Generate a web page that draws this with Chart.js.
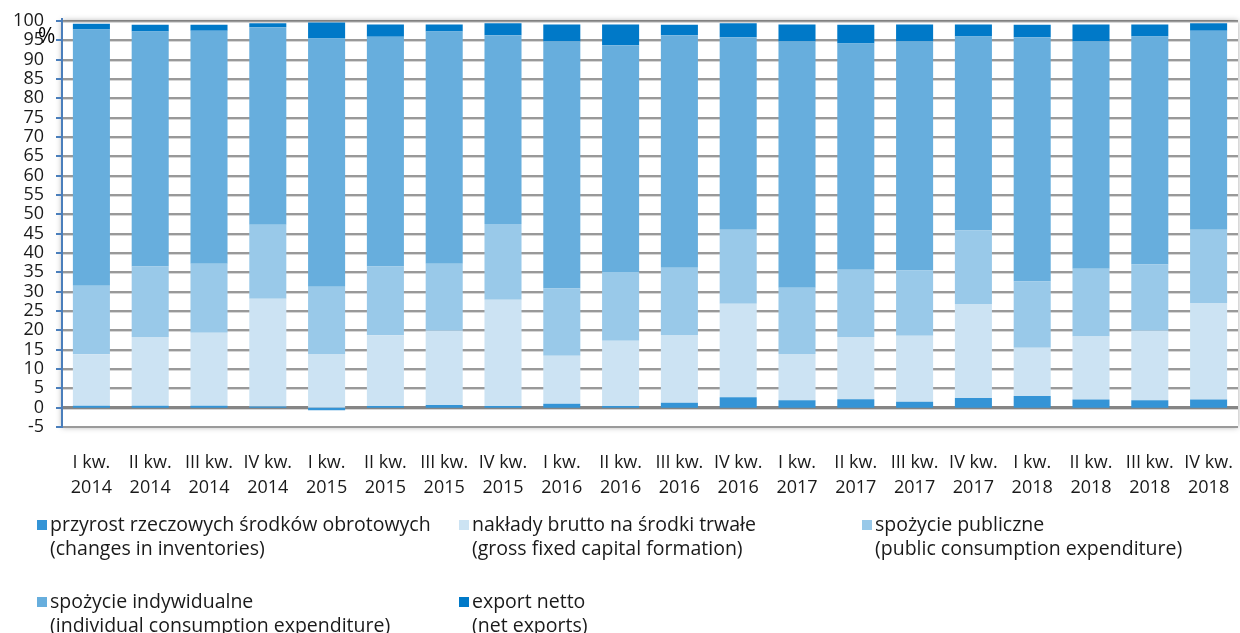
<!DOCTYPE html>
<html><head><meta charset="utf-8">
<script src="https://cdn.jsdelivr.net/npm/chart.js@4/dist/chart.umd.min.js"></script>
<style>html,body{margin:0;padding:0;background:#fff;}#wrap{position:relative;width:1240px;height:633px;}</style>
</head><body><div id="wrap"><canvas id="c" width="1240" height="633"></canvas></div>
<script>
const categories = [
  ['I kw.','2014'],['II kw.','2014'],['III kw.','2014'],['IV kw.','2014'],
  ['I kw.','2015'],['II kw.','2015'],['III kw.','2015'],['IV kw.','2015'],
  ['I kw.','2016'],['II kw.','2016'],['III kw.','2016'],['IV kw.','2016'],
  ['I kw.','2017'],['II kw.','2017'],['III kw.','2017'],['IV kw.','2017'],
  ['I kw.','2018'],['II kw.','2018'],['III kw.','2018'],['IV kw.','2018']
];
const inventories = [0.5,0.5,0.5,0.3,-0.7,0.4,0.7,0.4,1.0,0.4,1.3,2.7,1.9,2.2,1.5,2.5,3.0,2.1,1.9,2.1];
const grossFixedCapital = [13.3,17.8,18.9,27.9,13.9,18.3,19.2,27.5,12.4,16.9,17.5,24.2,12.0,16.1,17.1,24.3,12.5,16.3,18.0,25.0];
const publicConsumption = [17.7,18.2,17.8,19.1,17.4,17.8,17.3,19.6,17.4,17.8,17.4,19.1,17.1,17.4,16.9,19.0,17.1,17.5,17.1,18.9];
const individualConsumption = [66.3,60.8,60.3,51.1,64.2,59.4,60.1,48.8,63.9,58.6,60.1,49.8,63.7,58.5,59.2,50.2,63.2,58.8,59.0,51.5];
const netExports = [1.5,1.7,1.5,1.0,4.1,3.2,1.8,3.1,4.4,5.4,2.7,3.6,4.4,4.8,4.4,3.1,3.2,4.4,3.1,1.9];
const seriesLabels = [
  ['przyrost rzeczowych środków obrotowych','(changes in inventories)'],
  ['nakłady brutto na środki trwałe','(gross fixed capital formation)'],
  ['spożycie publiczne','(public consumption expenditure)'],
  ['spożycie indywidualne','(individual consumption expenditure)'],
  ['export netto','(net exports)']
];
const seriesColors = ['#3494d6','#cce3f3','#99c9e9','#67aedd','#0079c8'];
const yTicks = {min:-5, max:100, step:5};

const FONT = '"Open Sans", sans-serif';
const seriesData = [inventories, grossFixedCapital, publicConsumption, individualConsumption, netExports];

const extras = {
  id:'extras',
  beforeDatasetsDraw(chart){
    const {ctx, chartArea:a, scales:{y}} = chart;
    ctx.save();
    for (let v = yTicks.min + yTicks.step; v <= yTicks.max; v += yTicks.step) {
      const py = Math.round(y.getPixelForValue(v));
      const zero = v === 0;
      ctx.fillStyle = '#d6d6d6';
      ctx.fillRect(a.left, py+1, a.right-a.left, 1);
      ctx.fillStyle = zero ? '#858585' : '#999999';
      ctx.fillRect(a.left, zero ? py-2 : py-1, a.right-a.left, zero ? 3 : 2);
    }
    ctx.restore();
  },
  afterDraw(chart){
    const {ctx, chartArea:a, scales:{y}} = chart;
    ctx.save();
    ctx.beginPath();
    ctx.rect(0,0,chart.width,chart.height);
    ctx.rect(a.left, a.top, a.right-a.left, a.bottom-a.top);
    ctx.clip('evenodd');
    ctx.shadowColor='rgba(0,0,0,0.35)';
    ctx.shadowBlur=6;
    ctx.fillStyle='#fff';
    ctx.fillRect(a.left, a.top, a.right-a.left, a.bottom-a.top);
    ctx.restore();
    ctx.save();
    ctx.fillStyle='#9a9a9a';
    ctx.fillRect(a.left, Math.round(a.bottom)-1, a.right-a.left, 2);
    ctx.fillStyle='#4a7ebb';
    ctx.fillRect(Math.round(a.left)-1, a.top-3, 2, a.bottom-a.top+4);
    for (let v = yTicks.min; v <= yTicks.max; v += yTicks.step) {
      const py = Math.round(y.getPixelForValue(v));
      ctx.fillRect(a.left-6, py-1, 6, 2);
    }
    ctx.restore();
    ctx.save();
    ctx.fillStyle='#000';
    ctx.font = '21px '+FONT;
    ctx.textBaseline='alphabetic';
    ctx.fillText('%', 38, 43);
    const colX=[37,459,862], rowY=[525,602];
    ctx.font='19.5px '+FONT;
    ctx.textBaseline='middle';
    chart.data.datasets.forEach((ds,i)=>{
      const x=colX[i%3], yy=rowY[Math.floor(i/3)];
      ctx.fillStyle=ds.backgroundColor;
      ctx.fillRect(x, yy-5, 10, 10);
      ctx.fillStyle='#1a1a1a';
      ds.label.forEach((line,k)=>ctx.fillText(line, x+13, yy+k*24));
    });
    ctx.restore();
  }
};

new Chart(document.getElementById('c'), {
  type:'bar',
  data:{
    labels: categories,
    datasets: seriesData.map((d,i)=>({
      label: seriesLabels[i], data: d, backgroundColor: seriesColors[i],
      borderWidth:0, barPercentage:0.63, categoryPercentage:1
    }))
  },
  options:{
    responsive:false, animation:false, devicePixelRatio:1,
    layout:{padding:{top:21,right:2,bottom:0,left:0}},
    plugins:{legend:{display:false}, tooltip:{enabled:false}},
    scales:{
      x:{stacked:true,
        grid:{display:false, drawTicks:false},
        border:{display:false},
        ticks:{font:{family:FONT,size:18,lineHeight:1.4},color:'#1a1a1a',padding:23,maxRotation:0,autoSkip:false},
        afterFit(s){s.height=206; s.paddingLeft=0; s.paddingRight=0;}
      },
      y:{stacked:true, min:yTicks.min, max:yTicks.max,
        grid:{display:false, drawTicks:false},
        border:{display:false},
        ticks:{stepSize:yTicks.step, autoSkip:false, font:{family:FONT,size:18}, color:'#1a1a1a', padding:18},
        afterFit(s){s.width=62; s.paddingTop=0; s.paddingBottom=0;}
      }
    }
  },
  plugins:[extras]
});
</script></body></html>
